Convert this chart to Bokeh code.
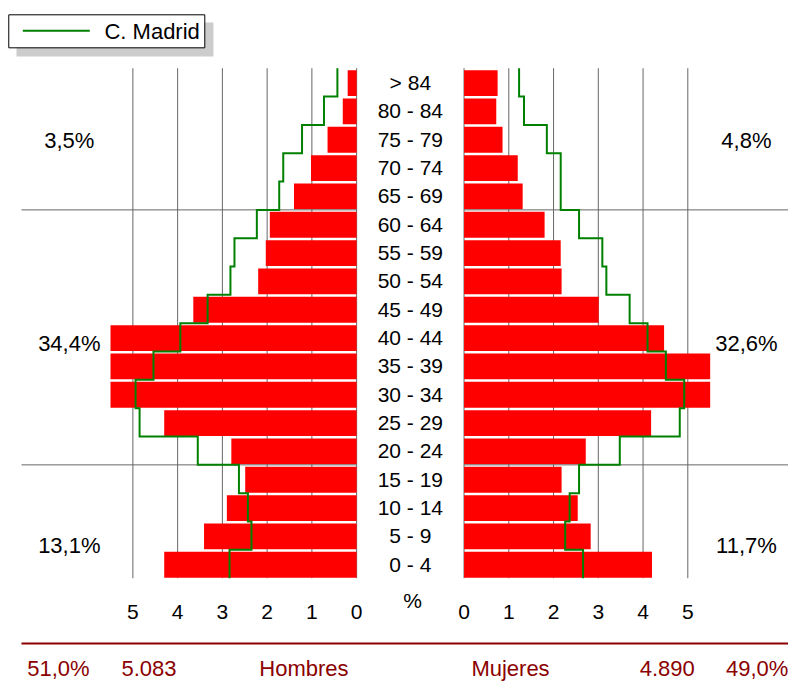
from bokeh.plotting import figure
from bokeh.models import Range1d
from bokeh.core.properties import value
from bokeh.embed import file_html
from bokeh.resources import INLINE
import numpy as np

# ---------------- data (bottom row first) ----------------
edades = ["0 - 4", "5 - 9", "10 - 14", "15 - 19", "20 - 24", "25 - 29", "30 - 34",
          "35 - 39", "40 - 44", "45 - 49", "50 - 54", "55 - 59", "60 - 64",
          "65 - 69", "70 - 74", "75 - 79", "80 - 84", "> 84"]
hombres = [4.30, 3.41, 2.90, 2.49, 2.80, 4.30, 6.00, 5.90, 5.60, 3.65, 2.20, 2.03,
           1.94, 1.40, 1.02, 0.65, 0.31, 0.20]
mujeres = [4.20, 2.83, 2.54, 2.18, 2.72, 4.18, 6.20, 5.90, 4.47, 3.01, 2.18, 2.16,
           1.80, 1.31, 1.20, 0.86, 0.72, 0.75]
madrid_hombres = [2.84, 2.35, 2.43, 2.63, 3.55, 4.85, 4.94, 4.54, 3.94, 3.33, 2.82,
                  2.73, 2.23, 1.73, 1.64, 1.22, 0.73, 0.43]
madrid_mujeres = [2.66, 2.26, 2.36, 2.57, 3.48, 4.82, 4.92, 4.51, 4.10, 3.70, 3.18,
                  3.09, 2.57, 2.16, 2.16, 1.85, 1.34, 1.23]
limites_grupo = [4, 13]                      # 0-19 | 20-64 | 65+
grupo_pct_hombres = ["13,1%", "34,4%", "3,5%"]
grupo_pct_mujeres = ["11,7%", "32,6%", "4,8%"]
grupo_y = [1.16, 8.27, 15.45]
eje_ticks = [0, 1, 2, 3, 4, 5]
total_hombres = ["51,0%", "5.083", "Hombres"]
total_mujeres = ["Mujeres", "4.890", "49,0%"]
leyenda = "C. Madrid"
eje_max = 5.5

# ---------------- layout constants ----------------
G = 1.2                       # half gap (data units) for the central age labels
XL, XR = -9.158, 8.450        # whole canvas is the frame
YB, YT = -3.752, 20.39
X_EDGE = -8.689               # left end of separators / bottom rule
FONT = value("Liberation Sans")
RED = "#ff0000"
GREEN = "#008000"
GRID = "#666666"
DARK = "#8b0000"

n = len(edades)
idx = np.arange(n)

p = figure(width=788, height=684, x_range=Range1d(XL, XR), y_range=Range1d(YB, YT),
           output_backend="svg", toolbar_location=None, x_axis_location=None,
           y_axis_location=None, min_border=0)
p.outline_line_color = None
p.background_fill_color = "white"
p.border_fill_color = "white"
p.xgrid.visible = False
p.ygrid.visible = False

# vertical grid lines at the axis ticks (scale 0..5 on each side)
tick_pos = [-(k + G) for k in eje_ticks] + [k + G for k in eje_ticks]
tick_txt = [str(k) for k in eje_ticks] * 2
p.segment(x0=tick_pos, y0=[0] * len(tick_pos), x1=tick_pos, y1=[n] * len(tick_pos),
          line_color=GRID, line_width=1)

# bars
h = np.minimum(np.array(hombres), eje_max)
m = np.minimum(np.array(mujeres), eje_max)
p.quad(left=-(h + G), right=-G, bottom=idx + 0.02, top=idx + 0.93,
       fill_color=RED, line_color=None)
p.quad(left=G, right=m + G, bottom=idx + 0.02, top=idx + 0.93,
       fill_color=RED, line_color=None)

# group separators
for b in limites_grupo:
    p.segment(x0=[X_EDGE, G], y0=[b, b], x1=[-G, XR], y1=[b, b],
              line_color=GRID, line_width=1)

# Madrid step outlines
def steps(vals, sign):
    xs, ys = [], []
    for i in range(n - 1, -1, -1):
        x = sign * (vals[i] + G)
        xs += [x, x]
        ys += [i + 1, i]
    return xs, ys

xs, ys = steps(madrid_hombres, -1)
p.line(xs, ys, line_color=GREEN, line_width=2, line_join="miter")
xs, ys = steps(madrid_mujeres, 1)
p.line(xs, ys, line_color=GREEN, line_width=2, line_join="miter")

# age labels
p.text(x=np.zeros(n), y=idx + 0.5, text=edades, text_font=FONT,
       text_font_size="21px", text_align="center", text_baseline="middle",
       text_color="black")

# group percentages
p.text(x=[-(G + 6.42)] * 3, y=grupo_y, text=grupo_pct_hombres, text_font=FONT,
       text_font_size="22px", text_align="center", text_baseline="middle")
p.text(x=[G + 6.31] * 3, y=grupo_y, text=grupo_pct_mujeres, text_font=FONT,
       text_font_size="22px", text_align="center", text_baseline="middle")

# axis tick labels and "%"
p.text(x=tick_pos, y=[-1.21] * len(tick_pos), text=tick_txt, text_font=FONT,
       text_font_size="21px", text_align="center", text_baseline="middle")
p.text(x=[0.05], y=[-0.79], text=["%"], text_font=FONT, text_font_size="21px",
       text_align="center", text_baseline="middle")

# bottom summary rule and texts
p.segment(x0=[X_EDGE], y0=[-2.305], x1=[XR], y1=[-2.305], line_color=DARK,
          line_width=2)
bx = [-7.863, -5.84, -2.377, 2.238, 5.74, 7.75]
p.text(x=bx, y=[-3.20] * 6, text=total_hombres + total_mujeres, text_font=FONT,
       text_font_size="22px", text_color=DARK, text_align="center",
       text_baseline="middle")

# legend box with shadow
p.quad(left=[-8.801], right=[-4.399], top=[19.613], bottom=[18.413],
       fill_color="#cccccc", line_color=None)
p.quad(left=[-8.973], right=[-4.593], top=[19.885], bottom=[18.72],
       fill_color="white", line_color="black", line_width=1)
p.segment(x0=[-8.660], y0=[19.32], x1=[-7.163], y1=[19.32], line_color=GREEN,
          line_width=2)
p.text(x=[-6.835], y=[19.30], text=[leyenda], text_font=FONT,
       text_font_size="22px", text_align="left", text_baseline="middle")

open("out.html", "w").write(file_html(p, INLINE))
